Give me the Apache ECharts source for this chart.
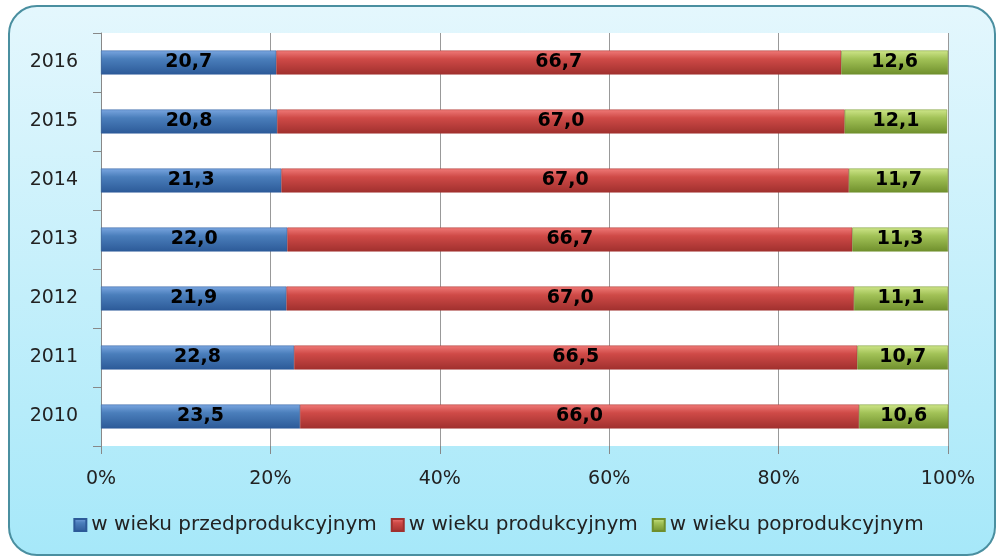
<!DOCTYPE html>
<html style="height: 100%">
<head>
<meta charset="utf-8">
<script src="https://cdn.jsdelivr.net/npm/echarts@6/dist/echarts.min.js"></script>
</head>
<body style="width: 100%; height: 100%; margin: 0; background: #fff;">
<div id="container" style="position:absolute; left:0; top:0; width:997px; height:558px;"></div>
<script type="text/javascript">
	var years = ['2010', '2011', '2012', '2013', '2014', '2015', '2016'];
	var przed = [23.5, 22.8, 21.9, 22.0, 21.3, 20.8, 20.7];
	var prod = [66.0, 66.5, 67.0, 66.7, 67.0, 67.0, 66.7];
	var po = [10.6, 10.7, 11.1, 11.3, 11.7, 12.1, 12.6];
	var names = ['w wieku przedprodukcyjnym', 'w wieku produkcyjnym', 'w wieku poprodukcyjnym'];

	function grad(c1, c2, c3) {
		return new echarts.graphic.LinearGradient(0, 0, 0, 1, [
			{ offset: 0, color: c1 },
			{ offset: 0.35, color: c2 },
			{ offset: 1, color: c3 }
		]);
	}
	var fonts = '"DejaVu Sans", Verdana, sans-serif';

	function makeSeries(name, data, colors, border) {
		return {
			name: name,
			type: 'bar',
			stack: 'all',
			barWidth: 24,
			data: data,
			itemStyle: {
				color: grad(colors[0], colors[1], colors[2]),
				borderColor: border,
				borderWidth: 0.5
			},
			label: {
				show: true,
				position: 'inside',
				color: '#000',
				fontFamily: fonts,
				fontWeight: 'bold',
				fontSize: 19,
				formatter: function (p) { return p.value.toFixed(1).replace('.', ','); }
			}
		};
	}

	var myChart = echarts.init(document.getElementById('container'));
	var option = {
		animation: false,
		graphic: [{
			type: 'rect',
			z: -10,
			shape: { x: 9, y: 6, width: 986, height: 549, r: 28 },
			style: {
				fill: new echarts.graphic.LinearGradient(0, 0, 0, 1, [
					{ offset: 0, color: '#e4f7fd' },
					{ offset: 1, color: '#a6e8f9' }
				]),
				stroke: '#4a8fa0',
				lineWidth: 2
			}
		}],
		grid: {
			left: 101,
			right: 49,
			top: 33,
			bottom: 112,
			show: true,
			backgroundColor: '#fff',
			borderWidth: 0
		},
		legend: {
			data: names,
			bottom: 18,
			left: 'center',
			itemWidth: 12,
			itemHeight: 12,
			itemGap: 14,
			icon: 'rect',
			textStyle: { fontFamily: fonts, fontSize: 20, color: '#222' }
		},
		xAxis: {
			type: 'value',
			min: 0,
			max: 100,
			interval: 20,
			axisLine: { show: false },
			axisTick: { show: true, length: 8, lineStyle: { color: '#888' } },
			splitLine: { show: true, lineStyle: { color: '#999', width: 1 } },
			axisLabel: {
				formatter: '{value}%',
				margin: 24,
				fontFamily: fonts,
				fontSize: 19,
				color: '#222'
			}
		},
		yAxis: {
			type: 'category',
			data: years,
			axisLine: { show: true, lineStyle: { color: '#888' } },
			axisTick: { show: true, length: 8, lineStyle: { color: '#888' } },
			axisLabel: { margin: 23, fontFamily: fonts, fontSize: 19, color: '#222' }
		},
		series: [
			makeSeries(names[0], przed, ['#7aa6e0', '#4a7ebb', '#2c5a98'], '#2c5a98'),
			makeSeries(names[1], prod, ['#f07a78', '#cf4a47', '#a0302e'], '#a0302e'),
			makeSeries(names[2], po, ['#cfe68a', '#a2c257', '#6f8f2c'], '#6f8f2c')
		]
	};
	myChart.setOption(option);
</script>
</body>
</html>
